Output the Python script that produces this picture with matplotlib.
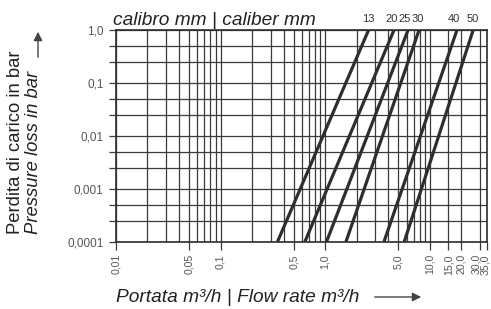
import matplotlib.pyplot as plt
from matplotlib.ticker import FixedLocator, NullFormatter
from matplotlib.transforms import offset_copy, ScaledTranslation

# calibers and flow rates (m3/h) where each line meets 0,0001 bar and 1,0 bar
calibers = ['13', '20', '25', '30', '40', '50']
q_low = [0.35, 0.64, 1.03, 1.58, 3.65, 5.7]
q_high = [2.6, 4.55, 6.2, 7.9, 18.2, 26.0]
p_low, p_high = 0.0001, 1.0

x_ticks = [0.01, 0.05, 0.1, 0.5, 1.0, 5.0, 10.0, 15.0, 20.0, 30.0, 35.0]
x_labels = ['0,01', '0,05', '0,1', '0,5', '1,0', '5,0', '10,0', '15,0', '20,0', '30,0', '35,0']
y_ticks = [0.0001, 0.001, 0.01, 0.1, 1.0]
y_labels = ['0,0001', '0,001', '0,01', '0,1', '1,0']

x_grid = [m * d for d in (0.01, 0.1, 1.0) for m in range(1, 10)] + [10.0, 15.0, 20.0, 30.0, 35.0]
y_grid = [m * d for d in (0.0001, 0.001, 0.01, 0.1) for m in (1, 2.5, 5)] + [1.0]

# small horizontal nudges (points) so the crowded caliber labels stay readable
label_nudge = [0, -2, -2.5, -1, -2, 0]

plt.rcParams['font.family'] = 'Liberation Sans'
W, H = 491, 309
fig = plt.figure(figsize=(W / 100, H / 100), dpi=100)
ax = fig.add_axes([116 / W, 1 - 241.7 / H, (486.7 - 116) / W, (241.7 - 30) / H])
ax.set_xscale('log')
ax.set_yscale('log')
ax.set_xlim(0.01, 35)
ax.set_ylim(p_low, p_high)

grid_color = '#3a3a3a'
for x in x_grid:
    ax.axvline(x, color=grid_color, lw=0.9, zorder=1)
for y in y_grid:
    ax.axhline(y, color=grid_color, lw=0.9, zorder=1)

for lo, hi in zip(q_low, q_high):
    ax.plot([lo, hi], [p_low, p_high], color='#2e2e2e', lw=2.3, solid_capstyle='butt', zorder=3)

for name, hi, dx in zip(calibers, q_high, label_nudge):
    tr = offset_copy(ax.transData, fig=fig, x=dx, y=4, units='points')
    ax.text(hi, p_high, name, transform=tr, ha='center', va='bottom',
            fontsize=8, color='#333333', clip_on=False)

ax.xaxis.set_major_locator(FixedLocator(x_ticks))
ax.set_xticklabels(x_labels, rotation=90, fontsize=7.6, color='#555555')
ax.xaxis.set_minor_locator(FixedLocator([]))
ax.xaxis.set_minor_formatter(NullFormatter())
ax.yaxis.set_major_locator(FixedLocator(y_ticks))
ax.set_yticklabels(y_labels, fontsize=8.5, color='#555555')
ax.yaxis.set_minor_locator(FixedLocator([v for v in y_grid if v not in y_ticks]))
ax.yaxis.set_minor_formatter(NullFormatter())
ax.tick_params(axis='x', which='major', length=6, width=0.9, color=grid_color, pad=3)
ax.tick_params(axis='y', which='both', length=5, width=0.9, color=grid_color, pad=4)
# the last two rotated labels sit very close: pull them left so both fit
for lab, shift in zip(ax.get_xticklabels()[-2:], (-2.5, -1.2)):
    lab.set_transform(lab.get_transform() + ScaledTranslation(shift / 72, 0, fig.dpi_scale_trans))

for s in ax.spines.values():
    s.set_color('#2e2e2e')
    s.set_linewidth(1.2)


def px(x, y):
    return x / W, 1 - y / H


fig.text(*px(113, 25), 'calibro mm | caliber mm', style='italic', fontsize=13.8,
         color='#222222', va='baseline', ha='left')
fig.text(*px(116, 298), 'Portata m³/h | Flow rate m³/h', style='italic', fontsize=13.8,
         color='#222222', va='center', ha='left')
fig.text(*px(16, 234), 'Perdita di carico in bar', fontsize=13.3, color='#222222',
         rotation=90, ha='center', va='bottom')
fig.text(*px(34, 234), 'Pressure loss in bar', style='italic', fontsize=13.3,
         color='#222222', rotation=90, ha='center', va='bottom')

arrow = dict(arrowstyle='-|>', color='#444444', lw=1.0, mutation_scale=13)
fig.add_artist(plt.Annotation('', xy=px(38, 29), xytext=px(38, 60), xycoords='figure fraction',
                              textcoords='figure fraction', arrowprops=arrow))
fig.add_artist(plt.Annotation('', xy=px(424, 297), xytext=px(372, 297), xycoords='figure fraction',
                              textcoords='figure fraction', arrowprops=arrow))

fig.savefig('out.png', dpi=100)
